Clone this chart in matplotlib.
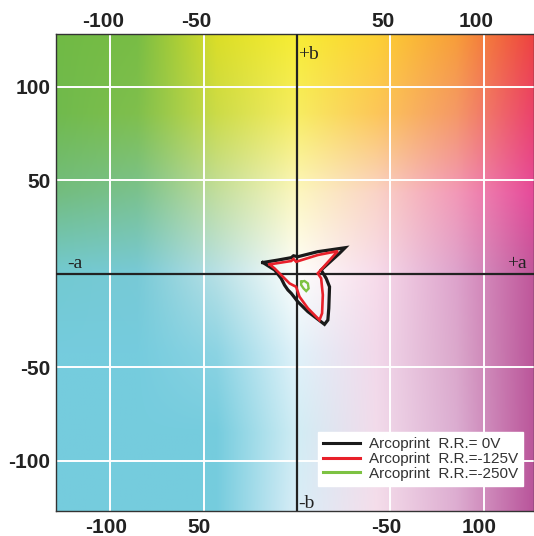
import numpy as np
import matplotlib.pyplot as plt
from matplotlib.transforms import ScaledTranslation, blended_transform_factory

plt.rcParams['font.family'] = ['Liberation Sans', 'DejaVu Sans']

# colour outlines in the a*, b* plane
rr0_a = [-18.2, -10.2, -3.0, -1.8, 0.5, 11.2, 25.8, 22.8, 13.0, 15.7, 17.5, 17.1, 16.6, 14.8,
         5.9, 0.5, -3.0, -4.8, -6.6, -8.4, -11.9, -18.2]
rr0_b = [6.0, 7.3, 8.6, 9.6, 9.1, 11.8, 13.9, 10.9, 2.0, -2.5, -7.0, -18.5, -24.8, -27.1,
         -20.3, -15.0, -10.5, -8.7, -6.1, -2.5, 2.0, 6.0]

rr125_a = [-14.6, -3.0, -1.8, -0.4, 11.2, 21.9, 11.2, 13.0, 13.9, 13.5, 12.1, 5.9, 1.4, -0.4,
           -3.9, -8.4, -11.9, -14.6]
rr125_b = [5.0, 6.8, 7.9, 6.4, 10.0, 12.1, 0.2, -2.5, -11.4, -21.2, -24.8, -18.5, -12.3, -7.0,
           -5.2, -0.7, 2.8, 5.0]

rr250_a = [2.3, 4.1, 5.9, 6.3, 5.0, 3.6, 2.3, 2.3]
rr250_b = [-4.3, -3.9, -5.2, -7.9, -9.3, -7.9, -6.0, -4.3]

series = [(rr0_a, rr0_b), (rr125_a, rr125_b), (rr250_a, rr250_b)]
series_labels = ['Arcoprint  R.R.= 0V', 'Arcoprint  R.R.=-125V', 'Arcoprint  R.R.=-250V']
series_colors = ['#1a1a1a', '#e8202a', '#7dc242']
series_widths = [2.3, 1.9, 1.7]

tick_vals = [-100, -50, 50, 100]
top_labels = ['-100', '-50', '50', '100']
bottom_labels = ['-100', '50', '-50', '100']
left_labels = ['-100', '-50', '50', '100']

# background colour field, 7 x 7 samples
# rows b = +128 .. -128, columns a = -128 .. +128
CY = (0.46, 0.80, 0.87)
bg_colors = [
    [(0.44, 0.73, 0.27), (0.47, 0.74, 0.27), (0.86, 0.87, 0.15), (0.97, 0.93, 0.20), (0.99, 0.82, 0.20), (0.97, 0.62, 0.22), (0.93, 0.25, 0.25)],
    [(0.44, 0.73, 0.30), (0.50, 0.75, 0.30), (0.80, 0.86, 0.28), (0.97, 0.93, 0.38), (0.99, 0.78, 0.35), (0.96, 0.60, 0.40), (0.92, 0.25, 0.42)],
    [(0.45, 0.74, 0.50), (0.48, 0.76, 0.56), (0.76, 0.87, 0.62), (0.99, 0.97, 0.75), (0.98, 0.83, 0.78), (0.95, 0.60, 0.72), (0.90, 0.28, 0.60)],
    [(0.45, 0.79, 0.82), (0.47, 0.79, 0.84), (0.72, 0.88, 0.90), (1.00, 1.00, 0.99), (0.97, 0.86, 0.92), (0.87, 0.64, 0.80), (0.75, 0.33, 0.60)],
    [CY, CY, (0.55, 0.83, 0.89), (0.88, 0.95, 0.98), (0.95, 0.85, 0.92), (0.86, 0.66, 0.80), (0.73, 0.33, 0.60)],
    [CY, CY, CY, (0.82, 0.93, 0.96), (0.95, 0.86, 0.92), (0.86, 0.68, 0.82), (0.73, 0.33, 0.60)],
    [CY, CY, CY, (0.85, 0.93, 0.97), (0.96, 0.87, 0.92), (0.87, 0.68, 0.82), (0.72, 0.32, 0.60)],
]

xlim = (-129, 127)
ylim = (-127, 128.3)

fig = plt.figure(figsize=(5.34, 5.36), dpi=100)
ax = fig.add_axes([56 / 534, 25 / 536, 478 / 534, 477 / 536])

half = 128 + 128 / 6
ax.imshow(np.array(bg_colors), extent=(-half, half, -half, half), origin='upper',
          interpolation='bilinear', aspect='auto', zorder=0)
ax.set_xlim(xlim)
ax.set_ylim(ylim)

ax.grid(color='white', lw=1.4)
ax.axhline(0, color='#222222', lw=1.6, zorder=3)
ax.axvline(0, color='#222222', lw=1.6, zorder=3)

for (a, b), lab, col, lw in zip(series, series_labels, series_colors, series_widths):
    ax.plot(a, b, color=col, lw=lw, label=lab, zorder=5, solid_joinstyle='miter')

for sp in ax.spines.values():
    sp.set_color('#333333')
    sp.set_linewidth(1.0)

tick_font = dict(fontsize=15, fontweight='bold', color='#222222')
ax.set_xticks(tick_vals, labels=bottom_labels, **tick_font)
ax.set_yticks(tick_vals, labels=left_labels, **tick_font)
ax.tick_params(length=0)
ax.tick_params(axis='x', pad=5)
ax.tick_params(axis='y', pad=4)

top = ax.secondary_xaxis('top')
top.set_xticks(tick_vals, labels=top_labels, **tick_font)
top.tick_params(length=0, pad=2)
top.spines['top'].set_visible(False)

for lbl in ax.get_xticklabels():
    lbl.set_transform(lbl.get_transform() + ScaledTranslation(-4 / 100, 0, fig.dpi_scale_trans))
for lbl in top.get_xticklabels():
    lbl.set_transform(lbl.get_transform() + ScaledTranslation(-7 / 100, 0, fig.dpi_scale_trans))

# axis direction labels
serif = dict(family=['Liberation Serif', 'DejaVu Serif'], fontsize=14, color='#222222')
tr_x = blended_transform_factory(ax.transData, ax.transAxes)
tr_y = blended_transform_factory(ax.transAxes, ax.transData)
ax.annotate('+b', xy=(0, 1), xycoords=tr_x, xytext=(1, -9), textcoords='offset points',
            ha='left', va='top', zorder=6, **serif)
ax.annotate('-b', xy=(0, 0), xycoords=tr_x, xytext=(1, 2), textcoords='offset points',
            ha='left', va='baseline', zorder=6, **serif)
ax.annotate('-a', xy=(0, 0), xycoords=tr_y, xytext=(8, 4), textcoords='offset points',
            ha='left', va='baseline', zorder=6, **serif)
ax.annotate('+a', xy=(1, 0), xycoords=tr_y, xytext=(-5, 4), textcoords='offset points',
            ha='right', va='baseline', zorder=6, **serif)

leg = ax.legend(loc='lower right', bbox_to_anchor=(0.977, 0.0524), borderaxespad=0,
                fontsize=11, frameon=True, fancybox=False, framealpha=1,
                edgecolor='white', facecolor='white', borderpad=0.35, labelspacing=0.05,
                handlelength=2.4, handletextpad=0.55)
for h in leg.get_lines():
    h.set_linewidth(2.2)
for t in leg.get_texts():
    t.set_color('#333333')
leg.set_zorder(7)

fig.savefig('out.png', dpi=100)
